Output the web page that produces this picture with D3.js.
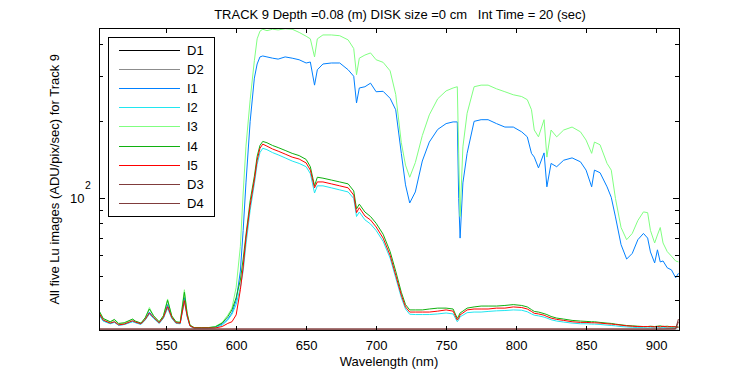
<!DOCTYPE html>
<html>
<head>
<meta charset="utf-8">
<script src="https://cdn.jsdelivr.net/npm/d3@7"></script>
<style>
  body { margin: 0; background: #fff; }
  text { font-family: "Liberation Sans", Arial, sans-serif; fill: #000; }
</style>
</head>
<body>
<div id="chart"></div>
<script>
// wavelength grid (nm) shared by the five Lu image series
var wavelength = [502,505,510,513,516,520,526,528,532,535,
  538,541,545,548,551,554,557,560,563,565,
  567,570,575,580,585,590,594,597,600,603,
  605,607,610,613,615,617,619,622,626,630,
  635,640,645,650,653,656,658,662,668,674,
  680,684,686,688,692,696,700,705,710,714,
  718,721,724,728,733,738,744,750,755,758,
  759,760,762,765,770,775,780,786,792,798,
  804,808,811,813,816,820,822,825,829,834,
  840,846,850,854,856,860,865,868,871,875,
  879,883,887,891,894,896,899,901,903,905,
  908,911,914,916];

var I1 = [35.3,33.3,32.5,32.9,32,32.2,33.1,32.8,32.3,33.6,
  36,34.2,32.6,34.2,38.5,34.2,32.6,32.5,41,34.8,
  31.8,31.2,31.2,31.2,31.5,32.3,33.8,35.7,40,52,
  75,115,200,295,335,357,360,357,353,350,
  357,353,348,338,341,277,318,335,338,338,
  318,300,236,270,273,282,261,262,246,222,
  150,113,96,106,140,166,186,196,199,199,
  100,70,115,150,200,203,203,196,190,190,
  182,174,150,145,131.6,150.6,111,137,133,141,
  144,139,129,111,129,126,111,101,84.7,66,
  58,61,69,73,70,61.8,56,63,56.5,57,
  53.6,52.6,49,51];

var I2 = [35,33.2,32.4,32.8,32,32.2,33,32.7,32.2,33.5,
  35.3,34,32.5,34,37.2,34,32.5,32.4,39.5,34.5,
  31.7,31.1,31.1,31.1,31.3,32,33.5,35.3,38.5,45,
  52,66,90,114,136,151,157,155,151,148,
  144,140,137,133,125,105,112,112,110,108,
  106,100,85,88.5,82.5,79.5,75,68,58.5,49,
  41,37,35.3,35.2,35.2,35.2,35.4,35.7,35.4,33,
  33.6,34.5,35,35.8,36,36,36.2,36.4,36.5,36.7,
  36.6,36.1,35.4,35,34.8,34.4,34.1,33.6,33.2,32.9,
  32.6,32.4,32.4,32.3,32.3,32.2,32,31.9,31.8,31.6,
  31.5,31.4,31.3,31.3,31.2,31.3,31.2,31.3,31.2,31.4,
  31.2,31.3,31.2,31.3];

var I3 = [36,33.8,32.8,33.5,32.3,32.5,33.7,33.1,32.5,34,
  37.5,34.8,32.9,34.8,40.5,34.6,32.9,32.8,44,35.5,
  32,31.3,31.3,31.3,31.6,32.8,35,37.3,45,65,
  105,160,243,345,420,450,458,452,458,455,
  460,458,445,430,420,357,420,435,435,432,
  416,385,304,353,363,370,348,340,315,255,
  165,135,121,138,176,212,245,263,270,273,
  150,85,159,215,273,277,277,268,261,254,
  250,243,222,185,174,203,145,185,174,185,
  190,182,169,150,166,162,137,129,100,77,
  69,73,82,88.6,88,75,67,72,77,67,
  62,59.5,57,56.5];

var I4 = [36.5,34,33,33.7,32.5,32.7,33.8,33.2,32.6,34.2,
  37,34.8,33,34.8,40,34.8,33,32.8,43,35.5,
  32,31.3,31.3,31.3,31.5,32.6,34.5,36.7,41,48,
  58,72,98,122,146,161,167,165,161,158,
  154,150,147,142,133,112,121,120,118,116,
  114,107,91,95,88.5,85,80,72.5,62,52,
  43,38.5,36.7,36.7,36.7,37,37.3,37.3,37,34,
  34.8,35.7,36.3,37.3,37.7,38,38,38,38.2,38.5,
  38.2,37.7,36.8,36.2,36,35.5,35.2,34.6,34.1,33.8,
  33.4,33.2,33.1,33,33,32.8,32.6,32.5,32.3,32.1,
  31.9,31.8,31.7,31.6,31.6,31.7,31.6,31.7,31.8,31.6,
  31.7,31.5,31.6,31.5];

var I5 = [35.7,33.5,32.6,33,32.1,32.3,33.3,32.9,32.4,33.7,
  35.7,34.3,32.7,34.3,37.8,34.3,32.7,32.6,39.9,34.8,
  31.8,31.2,31.2,31.2,31.2,31.6,32.5,33,35.1,44,
  54,70,94,118,141,157,163,160,156,153,
  149,145,142.5,137.6,129,110,116,116,114,112,
  110,103,88,92,85.4,82.4,77.4,70,60,50.2,
  41.9,37.7,36,36,36,36,36.3,36.7,36.3,33.5,
  34.1,35.1,35.7,36.7,37,37,37,37.3,37.3,37.7,
  37.5,37,36.2,35.6,35.4,35,34.6,34.1,33.7,33.4,
  33,32.8,32.8,32.7,32.7,32.6,32.4,32.3,32.2,32,
  31.8,31.7,31.6,31.6,31.6,31.6,31.5,31.6,31.5,31.7,
  31.5,31.6,31.5,31.4];

// dark frames sit at the bottom of the scale
var darkWavelength = [502, 600, 700, 800, 900, 914, 916];
var D1 = [30.55, 30.55, 30.55, 30.55, 30.55, 30.55, 30.55];
var D2 = [30.3, 30.3, 30.3, 30.3, 30.3, 30.3, 30.3];
var D3 = [30.9, 30.9, 30.9, 30.9, 30.9, 31.0, 33.8];
var D4 = [30.9, 30.9, 30.9, 30.9, 30.9, 30.9, 33.0];

var xTicks = [550, 600, 650, 700, 750, 800, 850, 900];
var yTicks = [40, 50, 60, 70, 80, 90, 100, 200, 300, 400];

var chart_width = 750;
var chart_height = 375;
var plotLeft = 99, plotRight = 679, plotTop = 28, plotBottom = 330.5;

var svg = d3.select('#chart')
  .append('svg')
  .attr('width', chart_width)
  .attr('height', chart_height);

var x_scale = d3.scaleLinear().domain([502, 916.4]).range([plotLeft, plotRight]);
var y_scale = d3.scaleLog().domain([30.5, 463]).range([plotBottom, plotTop]);

svg.append('clipPath').attr('id', 'plot-clip')
  .append('rect')
  .attr('x', plotLeft).attr('y', plotTop)
  .attr('width', plotRight - plotLeft).attr('height', plotBottom - plotTop);

var series = [
  { name: 'D1', wl: darkWavelength, v: D1, color: '#000000' },
  { name: 'D2', wl: darkWavelength, v: D2, color: '#8c8c8c' },
  { name: 'I1', wl: wavelength, v: I1, color: '#0080ff' },
  { name: 'I2', wl: wavelength, v: I2, color: '#20e6f0' },
  { name: 'I3', wl: wavelength, v: I3, color: '#80ff80' },
  { name: 'I4', wl: wavelength, v: I4, color: '#10b010' },
  { name: 'I5', wl: wavelength, v: I5, color: '#ff0000' },
  { name: 'D3', wl: darkWavelength, v: D3, color: '#803c3c' },
  { name: 'D4', wl: darkWavelength, v: D4, color: '#803c3c' }
];

var line = d3.line()
  .x(function(d) { return x_scale(d[0]); })
  .y(function(d) { return y_scale(d[1]); });

svg.append('g')
  .attr('clip-path', 'url(#plot-clip)')
  .selectAll('path')
  .data(series)
  .enter()
  .append('path')
  .attr('fill', 'none')
  .attr('stroke', function(d) { return d.color; })
  .attr('stroke-width', 1)
  .attr('d', function(d) {
    return line(d.wl.map(function(w, i) { return [w, d.v[i]]; }));
  });

// axes, ticks point inward on all four sides
var axisStyle = function(g) {
  g.select('.domain').remove();
  g.selectAll('line').attr('stroke', '#000').attr('shape-rendering', 'crispEdges');
  g.selectAll('text').attr('font-size', 13).attr('font-family', '"Liberation Sans", Arial, sans-serif');
};

svg.append('g')
  .attr('transform', 'translate(0,' + plotBottom + ')')
  .call(d3.axisBottom(x_scale).tickValues(xTicks).tickSizeInner(-5).tickSizeOuter(0).tickPadding(10))
  .call(axisStyle);

svg.append('g')
  .attr('transform', 'translate(0,' + plotTop + ')')
  .call(d3.axisTop(x_scale).tickValues(xTicks).tickSizeInner(-5).tickSizeOuter(0).tickFormat(''))
  .call(axisStyle);

svg.append('g')
  .attr('transform', 'translate(' + plotLeft + ',0)')
  .call(d3.axisLeft(y_scale).tickValues(yTicks).tickSizeOuter(0).tickFormat(''))
  .call(axisStyle)
  .selectAll('.tick line')
  .attr('x2', function(d) { return d === 100 ? 6 : 4; });

svg.append('g')
  .attr('transform', 'translate(' + plotRight + ',0)')
  .call(d3.axisRight(y_scale).tickValues(yTicks).tickSizeOuter(0).tickFormat(''))
  .call(axisStyle)
  .selectAll('.tick line')
  .attr('x2', function(d) { return d === 100 ? -6 : -4; });

// 10^2 label
svg.append('text')
  .attr('x', 84.5)
  .attr('y', y_scale(100) + 4.5)
  .attr('text-anchor', 'end')
  .attr('font-size', 13)
  .text('10');
svg.append('text')
  .attr('x', 85)
  .attr('y', y_scale(100) - 9)
  .attr('font-size', 10.5)
  .text('2');

// frame
svg.append('rect')
  .attr('x', plotLeft).attr('y', plotTop)
  .attr('width', plotRight - plotLeft).attr('height', plotBottom - plotTop)
  .attr('fill', 'none')
  .attr('stroke', '#000')
  .attr('shape-rendering', 'crispEdges');

// titles
svg.append('text')
  .attr('x', 400).attr('y', 19)
  .attr('text-anchor', 'middle')
  .attr('font-size', 13)
  .style('white-space', 'pre')
  .text('TRACK 9 Depth =0.08 (m) DISK size =0 cm   Int Time = 20 (sec)');

svg.append('text')
  .attr('x', (plotLeft + plotRight) / 2).attr('y', 366)
  .attr('text-anchor', 'middle')
  .attr('font-size', 13)
  .text('Wavelength (nm)');

svg.append('text')
  .attr('transform', 'translate(58.5,' + ((plotTop + plotBottom) / 2) + ') rotate(-90)')
  .attr('text-anchor', 'middle')
  .attr('font-size', 13)
  .text('All five Lu images (ADU/pix/sec) for Track 9');

// legend
var legend = svg.append('g');
legend.append('rect')
  .attr('x', 108.5).attr('y', 37.5)
  .attr('width', 106).attr('height', 179)
  .attr('fill', '#fff')
  .attr('stroke', '#000');

var legendOrder = ['D1', 'D2', 'I1', 'I2', 'I3', 'I4', 'I5', 'D3', 'D4'];
var items = legend.selectAll('g.item')
  .data(legendOrder.map(function(n) {
    return series.filter(function(s) { return s.name === n; })[0];
  }))
  .enter()
  .append('g')
  .attr('class', 'item')
  .attr('transform', function(d, i) { return 'translate(0,' + Math.round(50 + i * 19.1) + ')'; });

items.append('line')
  .attr('x1', 119).attr('x2', 180)
  .attr('y1', 0.5).attr('y2', 0.5)
  .attr('stroke', function(d) { return d.color; })
  .attr('stroke-width', 1);

items.append('text')
  .attr('x', 187).attr('y', 5)
  .attr('font-size', 13)
  .text(function(d) { return d.name; });
</script>
</body>
</html>
